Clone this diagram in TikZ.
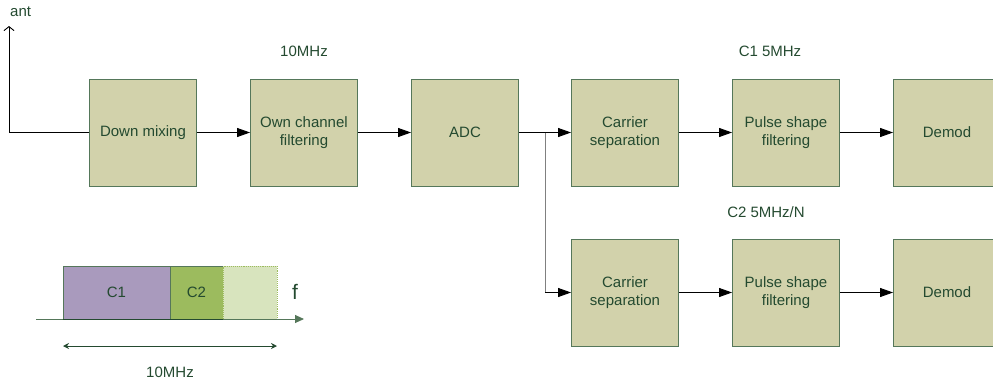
\documentclass[tikz,border=0pt]{standalone}
\usepackage{fontspec}
\setmainfont{Liberation Sans}
\usetikzlibrary{arrows.meta}
\definecolor{boxfill}{HTML}{D2D2AB}
\definecolor{boxline}{HTML}{55775A}
\definecolor{txt}{HTML}{244A30}
\definecolor{cone}{HTML}{A99ABD}
\definecolor{ctwo}{HTML}{9CBB5E}
\definecolor{cfree}{HTML}{D8E4BE}
\tikzset{
  blk/.style={draw=boxline, line width=0.9pt, fill=boxfill, minimum width=107pt, minimum height=107pt,
    inner sep=0pt, align=center, text=txt, font=\fontsize{15}{18}\selectfont},
  lbl/.style={text=txt, font=\fontsize{15}{17}\selectfont, inner sep=0pt},
  sig/.style={line width=0.9pt, -{Triangle[length=13pt,width=9pt]}},
  band/.style={draw=boxline, line width=0.9pt, minimum height=53pt, inner sep=0pt, text=txt,
    font=\fontsize{15}{17}\selectfont}
}
\begin{document}
\begin{tikzpicture}[x=1pt,y=-1pt]
\useasboundingbox (0,0) rectangle (993,383);
% upper chain
\node[blk] (mix)  at (143,132.5) {Down mixing};
\node[blk] (own)  at (304,132.5) {Own channel\\filtering};
\node[blk] (adc)  at (465,132.5) {ADC};
\node[blk] (cs1)  at (625,132.5) {Carrier\\separation};
\node[blk] (ps1)  at (786,132.5) {Pulse shape\\filtering};
\node[blk] (dm1)  at (947,132.5) {Demod};
% lower chain
\node[blk] (cs2)  at (625,292.5) {Carrier\\separation};
\node[blk] (ps2)  at (786,292.5) {Pulse shape\\filtering};
\node[blk] (dm2)  at (947,292.5) {Demod};
% antenna input
\coordinate (antc) at (9,132.5);
\coordinate (antt) at (9,26);
\node[lbl, anchor=west] (ant) at (10,12) {ant};
\draw[line width=0.9pt, -{Straight Barb[length=4pt,width=10pt]}] (mix.west) -- (antc) -- (antt);
% connectors
\draw[sig] (mix) -- (own);
\draw[sig] (own) -- (adc);
\draw[sig] (adc) -- (cs1);
\draw[sig] (cs1) -- (ps1);
\draw[sig] (ps1) -- (dm1);
\draw[sig] (cs2) -- (ps2);
\draw[sig] (ps2) -- (dm2);
\coordinate (br) at (545,132.5);
\draw[line width=0.9pt, draw=gray] (br) -- (br |- cs2.west);
\draw[sig] (br |- cs2.west) -- (cs2.west);
% rate labels
\node[lbl] (r1) at (304,51) {10MHz};
\node[lbl] (r2) at (770,51) {C1 5MHz};
\node[lbl] (r3) at (766,212) {C2 5MHz/N};
% spectrum sketch
\node[band, fill=cone, minimum width=107pt] (c1) at (116.5,292.5) {C1};
\node[band, fill=ctwo, minimum width=53pt] (c2) at (196.5,292.5) {C2};
\node[band, fill=cfree, draw=ctwo, densely dotted, minimum width=54pt] (c3) at (250,292.5) {};
\coordinate (ax0) at (36,319);
\coordinate (ax1) at (304,319);
\draw[draw=boxline, line width=0.9pt, -{Triangle[length=9pt,width=8pt]}] (ax0) -- (ax1);
\draw[draw=txt, line width=1pt] (c1.south west) -- (c2.south east);
\node[text=txt, font=\fontsize{21}{23}\selectfont, inner sep=0pt] (f) at (295,292) {f};
\coordinate (w0) at (63,346);
\coordinate (w1) at (277,346);
\draw[draw=txt, line width=0.9pt, {Stealth[length=6pt,width=6pt]}-{Stealth[length=6pt,width=6pt]}] (w0) -- (w1);
\node[lbl] (wl) at (170,372) {10MHz};
\end{tikzpicture}
\end{document}
